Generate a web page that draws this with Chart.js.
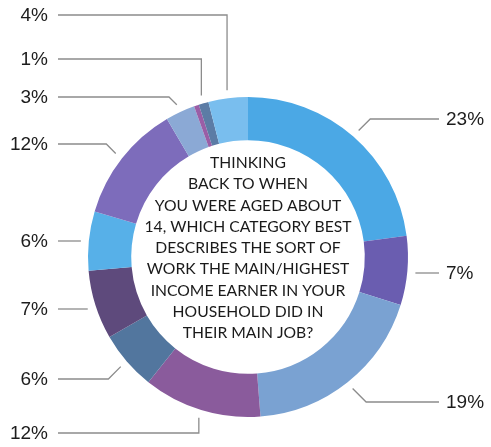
<!DOCTYPE html>
<html>
<head>
<meta charset="utf-8">
<script src="https://cdn.jsdelivr.net/npm/chart.js@4/dist/chart.umd.min.js"></script>
<style>
  html, body { margin: 0; padding: 0; background: #ffffff; }
  #wrap { width: 491px; height: 447px; }
</style>
</head>
<body>
<div id="wrap"><canvas id="c" width="491" height="447"></canvas></div>
<script>
// ---- data ----
const categories = ['23%', '7%', '19%', '12%', '6%', '7%', '6%', '12%', '3%', '', '1%', '4%'];
const sliceValues = [23, 7, 19, 12, 6, 7, 6, 12, 3, 0.5, 1, 4];
const centerLines = [
  'THINKING',
  'BACK TO WHEN',
  'YOU WERE AGED ABOUT',
  '14, WHICH CATEGORY BEST',
  'DESCRIBES THE SORT OF',
  'WORK THE MAIN/HIGHEST',
  'INCOME EARNER IN YOUR',
  'HOUSEHOLD DID IN',
  'THEIR MAIN JOB?'
];

// ---- styles / layout ----
const sliceColors = ['#4BA8E5', '#6A5DB0', '#7AA2D2', '#8A5B9C', '#52769E', '#5E4A7C',
                     '#57B0E8', '#7D6CBB', '#8BA9D5', '#9A5EA6', '#5C7CA5', '#79BEEE'];
const labelY = [119, 273, 402, 433, 379, 309, 241, 144, 97, null, 59, 15];
const leaderStyle = ['diag', 'straight', 'diag', 'vert', 'diag', 'straight', 'straight', 'diag', 'diag', null, 'vert', 'vert'];

const leaderPlugin = {
  id: 'leaders',
  afterDatasetsDraw(chart) {
    const ctx = chart.ctx;
    const meta = chart.getDatasetMeta(0);
    ctx.save();
    meta.data.forEach((arc, i) => {
      if (!categories[i]) return;
      const p = arc.getProps(['x', 'y', 'startAngle', 'endAngle', 'outerRadius'], true);
      const mid = (p.startAngle + p.endAngle) / 2;
      const r = p.outerRadius + 8;
      const ax = p.x + Math.cos(mid) * r;
      const ay = p.y + Math.sin(mid) * r;
      const right = Math.cos(mid) > 0;
      const ly = labelY[i];
      let ex = ax, ey = ly;
      const st = leaderStyle[i];
      if (st === 'diag') {
        const dy = Math.abs(ly - ay);
        ex = right ? ax + dy : ax - dy;
      }
      const lineEnd = right ? 439 : 58;
      ctx.strokeStyle = '#8c8c8c';
      ctx.lineWidth = 1.3;
      ctx.beginPath();
      ctx.moveTo(lineEnd, ly);
      ctx.lineTo(ex, ey);
      if (st !== 'straight') ctx.lineTo(ax, ay);
      ctx.stroke();
      ctx.fillStyle = '#1c1c1c';
      ctx.font = '19px "Liberation Sans", Arial, sans-serif';
      ctx.textBaseline = 'middle';
      ctx.textAlign = right ? 'left' : 'right';
      ctx.fillText(categories[i], right ? 446 : 48, ly + 1);
    });
    // centre text
    const cx = meta.data[0].x;
    const cy = meta.data[0].y;
    ctx.fillStyle = '#1a1a1a';
    ctx.font = '15.7px Lato, "Open Sans", sans-serif';
    ctx.textAlign = 'center';
    ctx.textBaseline = 'middle';
    const lh = 21.25;
    const top = cy - 9 - (centerLines.length - 1) * lh / 2;
    centerLines.forEach((t, k) => ctx.fillText(t, cx, top + k * lh));
    ctx.restore();
  }
};

new Chart(document.getElementById('c'), {
  type: 'doughnut',
  data: {
    labels: categories,
    datasets: [{
      data: sliceValues,
      backgroundColor: sliceColors,
      borderWidth: 0
    }]
  },
  options: {
    responsive: false,
    animation: false,
    cutout: '73%',
    layout: { padding: { left: 88, right: 83, top: 97, bottom: 30 } },
    plugins: { legend: { display: false }, tooltip: { enabled: false } }
  },
  plugins: [leaderPlugin]
});
</script>
</body>
</html>
